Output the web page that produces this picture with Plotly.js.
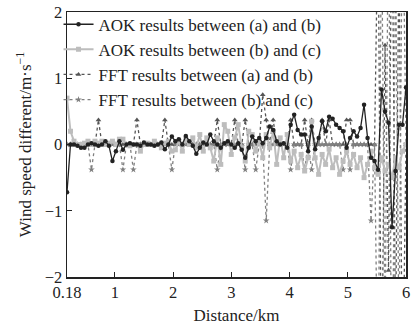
<!DOCTYPE html>
<html>
<head>
<meta charset="utf-8">
<script src="https://cdn.plot.ly/plotly-3.0.1.min.js"></script>
<style>html,body{margin:0;padding:0;background:#fff;}#chart{width:411px;height:329px;}</style>
</head>
<body>
<div id="chart"></div>
<script>
var distance = [0.18,0.24,0.30,0.36,0.42,0.48,0.54,0.60,0.66,0.72,0.78,0.84,0.90,0.96,1.02,1.08,1.14,1.20,1.26,1.32,
1.38,1.44,1.50,1.56,1.62,1.68,1.74,1.80,1.86,1.92,1.98,2.04,2.10,2.16,2.22,2.28,2.34,2.40,2.46,2.52,
2.58,2.64,2.70,2.76,2.82,2.88,2.94,3.00,3.06,3.12,3.18,3.24,3.30,3.36,3.42,3.48,3.54,3.60,3.66,3.72,
3.78,3.84,3.90,3.96,4.02,4.08,4.14,4.20,4.26,4.32,4.38,4.44,4.50,4.56,4.62,4.68,4.74,4.80,4.86,4.92,
4.98,5.04,5.10,5.16,5.22,5.28,5.34,5.40,5.46,5.52,5.58,5.64,5.70,5.76,5.82,5.88,5.94,6.00];

var aokAB = [-0.72,0.0,0.0,-0.02,-0.05,-0.05,0.0,0.02,0.0,-0.02,0.0,0.05,-0.02,-0.25,-0.1,0.05,-0.08,0.0,0.02,0.0,
0.0,-0.02,0.03,0.0,0.0,-0.02,0.0,0.03,-0.07,0.0,0.12,0.05,0.08,0.0,0.13,0.05,-0.02,-0.14,-0.05,0.03,
0.0,0.15,0.05,0.0,-0.05,0.02,0.05,0.0,-0.05,0.02,-0.08,-0.2,-0.05,0.12,0.05,0.1,0.02,0.1,0.27,0.22,
0.05,0.0,0.02,-0.05,0.3,0.45,0.22,0.15,0.15,-0.1,0.27,-0.07,0.1,0.35,0.2,0.42,0.39,0.3,0.25,0.2,
-0.05,0.1,0.2,0.12,0.25,0.6,0.1,-0.2,-0.25,-0.38,0.83,0.5,0.33,-1.25,-0.4,0.3,0.3,0.86];

var aokBC = [0.7,0.2,0.05,0.0,0.0,0.02,0.05,0.0,0.05,0.02,0.05,0.0,0.02,0.05,0.0,0.08,0.08,0.0,-0.02,0.0,
0.0,-0.1,0.0,0.02,0.0,0.05,0.0,-0.05,0.02,0.05,-0.1,-0.08,0.05,-0.1,0.08,0.0,0.1,-0.05,0.15,-0.1,
0.1,-0.05,-0.25,0.1,-0.3,0.3,0.2,-0.15,0.1,0.3,-0.05,-0.25,0.2,0.15,-0.1,0.05,-0.2,0.15,-0.05,0.2,
-0.3,0.1,-0.2,0.15,-0.25,-0.1,-0.35,-0.15,-0.4,-0.2,0.35,-0.2,-0.45,-0.15,-0.3,-0.07,-0.35,-0.2,-0.45,-0.25,
-0.1,-0.3,-0.15,-0.35,-0.2,-0.5,-0.3,-0.1,-0.35,-0.45,-0.2,-0.4,-0.3,-0.5,-0.2,-0.35,-0.1,0.0];

var fftAB = [0,0,0,0,0,0,0,0,0,0.37,0,0,0,0,0,0,0,0,0,0,
0.37,0,0,0,0,0,0,0,0.37,0,0,0,0,0,0,0,0,0,0,0,
0,0,0,0.37,0,0,0,0,0.37,0,0,0.37,0,0,0,0,0.75,0.37,0,0.37,
0,0,0,0,0.37,0,0,0,0.37,0,0.37,0,0,0.37,0,0.37,0,0,0,0,
0.37,0.37,0,0,0,0,0,0,0,3.5,-4,1.5,-1.9,4,-3,3,-4,0];

var fftBC = [0,0,0,0,0,0,0,-0.38,0,0,0,0,0,0,0,0,-0.38,0,0,-0.38,
0,0,0,0,0,0,0,0,0,0,-0.38,0,0,0,0,0,0,0,0,0,
0,0,0,-0.38,0,0,0,0,0,0,0,-0.38,0,0,-0.38,0,0,-1.15,0,0,
0,0,0,0,-0.38,0,0,0,-0.38,0,-0.38,0,0,0,0,0,0,0,0,-0.38,
0,-0.38,0,0,0,0,0,-1.15,0,-4,3.5,-3,4,-5,3,-3,4,0];

var xTicks = [0.18,1,2,3,4,5,6];
var xTickText = ['0.18','1','2','3','4','5','6'];
var yTicks = [-2,-1,0,1,2];
var yTickText = ['\u22122','\u22121','0','1','2'];

var serif = '"Liberation Serif", "Times New Roman", serif';

var traces = [
  {x: distance, y: fftAB, name: 'FFT results between (a) and (b)', type: 'scatter', mode: 'lines+markers',
   line: {color: '#555555', width: 1.3, dash: 'dot'}, marker: {symbol: 'triangle-up', size: 5, color: '#555555'}, legendrank: 3},
  {x: distance, y: fftBC, name: 'FFT results between (b) and (c)', type: 'scatter', mode: 'lines+markers',
   line: {color: '#808080', width: 1.3, dash: 'dot'}, marker: {symbol: 'star', size: 5, color: '#808080'}, legendrank: 4},
  {x: distance, y: aokBC, name: 'AOK results between (b) and (c)', type: 'scatter', mode: 'lines+markers',
   line: {color: '#bdbdbd', width: 2}, marker: {symbol: 'square', size: 5, color: '#bdbdbd'}, legendrank: 2},
  {x: distance, y: aokAB, name: 'AOK results between (a) and (b)', type: 'scatter', mode: 'lines+markers',
   line: {color: '#222222', width: 1.3}, marker: {symbol: 'circle', size: 4.5, color: '#222222'}, legendrank: 1}
];

var layout = {
  width: 411, height: 329,
  margin: {l: 67, r: 5, t: 12, b: 52},
  paper_bgcolor: '#ffffff', plot_bgcolor: '#ffffff',
  font: {family: serif, size: 16.5, color: '#222'},
  showlegend: true,
  legend: {x: -0.025, y: 1.02, xanchor: 'left', yanchor: 'top', bgcolor: 'rgba(0,0,0,0)',
           font: {family: serif, size: 17, color: '#222'}, tracegroupgap: 0, itemwidth: 30},
  xaxis: {range: [0.18, 6.0], tickvals: xTicks, ticktext: xTickText, ticks: 'inside', ticklen: 5,
          tickcolor: '#222', showline: true, linecolor: '#222', linewidth: 1.5, mirror: true,
          showgrid: false, zeroline: false, tickfont: {family: serif, size: 16.5},
          title: {text: 'Distance/km', font: {family: serif, size: 17}, standoff: 8}},
  yaxis: {range: [-2, 2], tickvals: yTicks, ticktext: yTickText, ticks: 'inside', ticklen: 5,
          tickcolor: '#222', showline: true, linecolor: '#222', linewidth: 1.5, mirror: true,
          showgrid: false, zeroline: false, tickfont: {family: serif, size: 16.5},
          title: {text: 'Wind speed different/m\u00b7s<sup>\u22121</sup>', font: {family: serif, size: 17}, standoff: 8}}
};

Plotly.newPlot('chart', traces, layout, {displayModeBar: false, staticPlot: true});
</script>
</body>
</html>
